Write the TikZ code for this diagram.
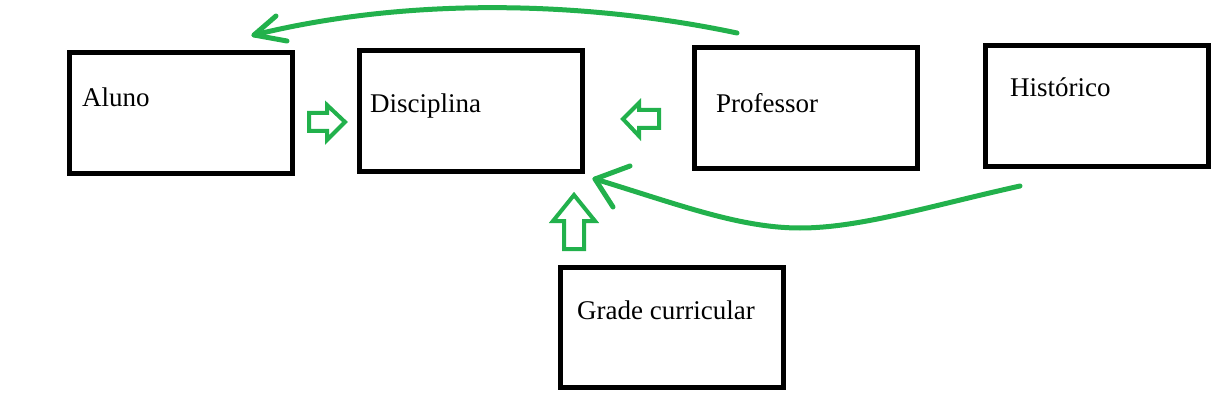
\documentclass[tikz,border=0pt]{standalone}
\usepackage{fontspec}
\setmainfont{Liberation Serif}
\usepackage{tikz}
\usetikzlibrary{positioning,calc}
\usepackage{xcolor}
\definecolor{paintgreen}{RGB}{34,177,76}

\begin{document}
\begin{tikzpicture}[x=1pt,y=-1pt,
  box/.style={draw,line width=5pt,minimum width=223pt,minimum height=120pt,inner sep=0pt},
  lbl/.style={anchor=base west,inner sep=0pt,font=\fontsize{27}{32}\selectfont},
  blk/.style={draw=paintgreen,line width=4pt},
  curv/.style={draw=paintgreen,line width=5pt,line cap=round,line join=round}]
  \useasboundingbox (0,0) rectangle (1223,409);
  \node[box] (aluno) at (181,113) {};
  \node[box] (disc)  at (471,111) {};
  \node[box] (prof)  at (806,108) {};
  \node[box] (hist)  at (1096.5,106) {};
  \node[box] (grade) at (671.5,327.5) {};
  \node[lbl] (aluno-t) at (82,107) {Aluno};
  \node[lbl] (disc-t)  at (370,113) {Disciplina};
  \node[lbl] (prof-t)  at (716,113) {Professor};
  \node[lbl] (hist-t)  at (1010,97) {Histórico};
  \node[lbl] (grade-t) at (577,319) {Grade curricular};
  \draw[blk] (309,113)--(327,113)--(327,105)--(345,122)--(327,140)--(327,131)--(309,131)--cycle;
  \draw[blk] (659,110)--(639,110)--(639,103)--(623,119)--(639,136)--(639,128)--(659,128)--cycle;
  \draw[blk] (564,249)--(564,221)--(553,221)--(574,195)--(595,221)--(584,221)--(584,249)--cycle;
  \coordinate (top-s) at (737,33);
  \coordinate (top-e) at (254,35);
  \coordinate (bot-s) at (1020,186);
  \coordinate (bot-m) at (800,228);
  \coordinate (bot-e) at (595,179);
  \draw[curv] (top-s) .. controls (600,4) and (420,-6) .. (top-e);
  \draw[curv] ($(top-e)+(22,-19)$) -- (top-e) -- ++(33,6);
  \draw[curv] (bot-s) .. controls (930,206) and (860,228) .. (bot-m)
    .. controls (740,228) and (680,205) .. (bot-e);
  \draw[curv] ($(bot-e)+(35,-13)$) -- (bot-e) -- ++(18,28);
\end{tikzpicture}
\end{document}
